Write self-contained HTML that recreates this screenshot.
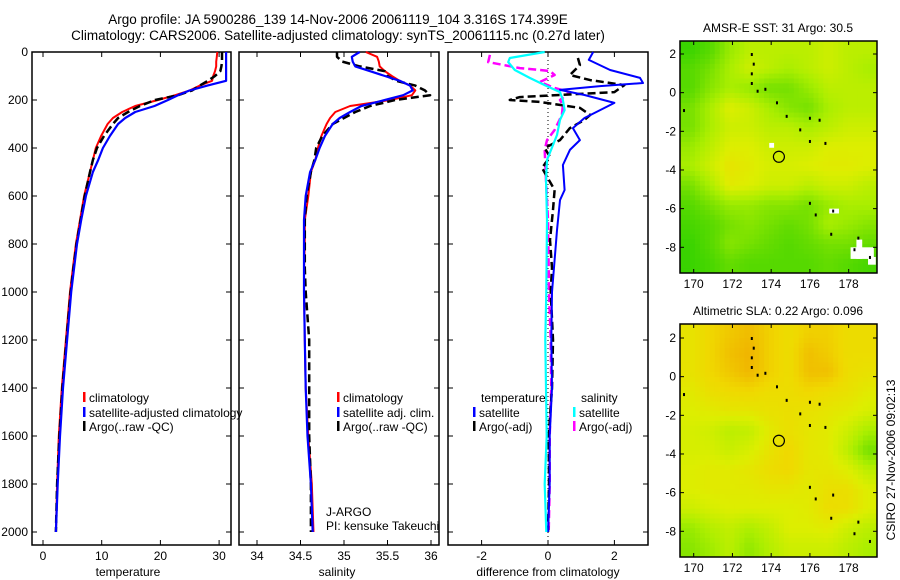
<!DOCTYPE html>
<html><head><meta charset="utf-8"><style>
body{margin:0;background:#fff;}
svg{display:block;font-family:"Liberation Sans",sans-serif;}
text{font-size:12px;fill:#000;}
</style></head><body>
<svg id="c" width="900" height="580" viewBox="0 0 900 580"></svg>
<script>
const depths=[0,20,40,60,80,100,120,140,160,180,200,225,250,275,300,350,400,450,500,600,700,800,900,1000,1200,1400,1600,1800,2000];
const tClim=[29.7,29.6,29.5,29.5,29.3,29.0,28.8,26.7,25.0,22.5,19.6,15.7,13.5,11.9,11.0,9.9,9.0,8.5,8.0,7.0,6.3,5.6,5.1,4.6,3.9,3.2,2.7,2.4,2.2];
const tSat=[31.2,31.2,31.2,31.2,31.2,31.2,31.2,28.0,25.0,23.0,21.3,19.0,15.7,14.0,12.8,11.4,10.2,9.4,8.5,7.3,6.5,5.8,5.3,4.8,4.1,3.4,2.9,2.5,2.2];
const tArgo=[30.5,30.5,30.5,30.4,30.2,29.3,28.1,26.7,25.4,23.0,19.1,16.5,14.5,12.8,11.9,10.4,9.2,8.5,8.0,7.1,6.4,5.7,5.2,4.7,4.0,3.3,2.8,2.4,2.2];
const sClim=[35.25,35.38,35.40,35.41,35.47,35.55,35.64,35.76,35.82,35.78,35.53,35.07,34.90,34.84,34.80,34.74,34.70,34.67,34.62,34.59,34.55,34.55,34.54,34.54,34.55,34.56,34.59,34.63,34.65];
const sSat=[35.18,35.09,35.10,35.13,35.30,35.47,35.64,35.76,35.79,35.68,35.47,35.20,35.07,34.95,34.87,34.78,34.72,34.67,34.61,34.56,34.54,34.54,34.54,34.54,34.55,34.56,34.58,34.62,34.64];
const sArgo=[34.92,34.92,34.98,35.18,35.47,35.50,35.60,35.82,35.93,35.99,35.59,35.30,35.13,35.00,34.87,34.75,34.68,34.66,34.62,34.57,34.55,34.55,34.55,34.56,34.60,34.60,34.60,34.62,34.62];
const dTSatDepth=[0,33,75,108,129,142,158,179,212,242,275,317,367,408,471,575,617,742,867,1000,1200,1400,1600,1800,2000];
const dTSat=[1.36,1.23,1.87,2.77,2.86,1.57,0.36,1.1,2.0,1.57,1.1,0.75,0.96,0.66,0.45,0.5,0.36,0.27,0.2,0.12,0.1,0.12,0.05,0.05,0.0];
const dTArgoDepth=[25,54,96,117,138,167,188,200,208,233,262,283,317,367,400,437,483,575,658,783,900,1000,1200,1400,1600,1800,2000];
const dTArgo=[0.9,0.96,0.66,1.27,2.3,2.0,-0.85,-1.15,-0.25,0.96,1.27,1.1,0.66,0.36,-0.1,0.06,-0.18,0.2,0.15,0.06,0.12,0.08,0.15,0.12,0.02,0.03,0.0];
const dSSatDepth=[0,25,42,75,108,138,167,200,242,283,346,450,533,700,1000,1200,1400,1600,1800,2000];
const dSSat=[-0.1,-1.15,-1.2,-1.0,-0.55,-0.1,0.36,0.45,0.5,0.36,0.27,-0.03,-0.06,-0.03,-0.05,-0.08,-0.06,-0.04,-0.1,-0.05];
const dSArgoDepth=[12,42,67,79,96,125,150,167,200,221,262,325,367,408,533,700,1000,1200,1400,1600,1800,2000];
const dSArgo=[-1.75,-1.8,-0.85,0.06,0.2,-0.24,0.2,0.66,0.36,0.45,0.42,0.2,-0.03,-0.1,-0.06,0.0,0.03,0.08,0.1,0.05,0.05,0.02];
const depthTicks=[0,200,400,600,800,1000,1200,1400,1600,1800,2000];
const tempTicks=[0,10,20,30];
const salTicks=[34,34.5,35,35.5,36];
const diffTicks=[-2,0,2];
const lonTicks=[170,172,174,176,178];
const latTicks=[2,0,-2,-4,-6,-8];
const sstGrid=[
[0.2,0.3,0.5,0.6,0.6,0.6,0.6,0.65,0.6,0.6],
[0.3,0.4,0.55,0.65,0.6,0.55,0.6,0.65,0.6,0.55],
[0.3,0.45,0.55,0.5,0.4,0.4,0.5,0.6,0.6,0.6],
[0.4,0.55,0.7,0.65,0.55,0.45,0.4,0.55,0.6,0.6],
[0.4,0.55,0.65,0.65,0.6,0.6,0.55,0.6,0.65,0.65],
[0.5,0.6,0.7,0.7,0.65,0.65,0.65,0.7,0.7,0.7],
[0.55,0.65,0.75,0.72,0.68,0.68,0.7,0.72,0.72,0.7],
[0.4,0.55,0.72,0.7,0.65,0.65,0.6,0.65,0.65,0.6],
[0.3,0.4,0.5,0.5,0.45,0.45,0.4,0.5,0.55,0.55],
[0.25,0.3,0.4,0.45,0.4,0.35,0.4,0.55,0.5,0.45],
[0.2,0.3,0.45,0.4,0.35,0.3,0.35,0.4,0.4,0.35],
[0.2,0.25,0.35,0.3,0.3,0.3,0.3,0.35,0.3,0.25]];
const slaGrid=[
[0.75,0.8,0.84,0.87,0.82,0.78,0.82,0.82,0.78,0.78],
[0.75,0.8,0.86,0.89,0.82,0.78,0.86,0.83,0.78,0.78],
[0.75,0.8,0.84,0.88,0.82,0.78,0.86,0.86,0.78,0.76],
[0.72,0.77,0.79,0.8,0.78,0.78,0.8,0.78,0.76,0.72],
[0.7,0.72,0.74,0.74,0.76,0.77,0.76,0.74,0.72,0.68],
[0.68,0.66,0.6,0.62,0.72,0.77,0.74,0.72,0.65,0.55],
[0.68,0.68,0.64,0.68,0.75,0.8,0.74,0.72,0.6,0.4],
[0.7,0.72,0.72,0.74,0.78,0.8,0.74,0.74,0.7,0.6],
[0.7,0.72,0.72,0.72,0.74,0.74,0.72,0.77,0.77,0.7],
[0.65,0.68,0.7,0.7,0.7,0.7,0.72,0.78,0.77,0.7],
[0.5,0.58,0.62,0.56,0.62,0.7,0.7,0.72,0.65,0.6],
[0.45,0.52,0.6,0.48,0.58,0.65,0.65,0.65,0.6,0.55]];
const islandLon=[173,173.1,173,173,173.7,173.3,174.3,174.8,176,176.5,175.5,176,176.8,176,176.3,177.2,177.1,178.5,178.3,179.1,169.5];
const islandLat=[2,1.5,1,0.5,0.2,0.1,-0.5,-1.2,-1.3,-1.4,-1.9,-2.5,-2.6,-5.7,-6.3,-6.1,-7.3,-7.5,-8.1,-8.5,-0.9];
const floatLon=174.399, floatLat=-3.316;

const svg=document.getElementById('c');
const NS='http://www.w3.org/2000/svg';
function el(tag,attrs,parent){const e=document.createElementNS(NS,tag);for(const k in attrs)e.setAttribute(k,attrs[k]);(parent||svg).appendChild(e);return e;}
function txt(x,y,s,anchor,parent){const t=el('text',{x:x,y:y,'text-anchor':anchor||'start'},parent);t.textContent=s;return t;}

const dTop=52,dScale=0.24;
const yD=d=>dTop+d*dScale;
const panels=[
 {name:'temperature',x0:32,x1:231,fx:v=>43+v*5.87,ticks:tempTicks,label:'temperature',lx:128},
 {name:'salinity',x0:239,x1:439,fx:v=>257+(v-34)*87,ticks:salTicks,label:'salinity',lx:337},
 {name:'difference',x0:448,x1:648,fx:v=>548+v*33.2,ticks:diffTicks,label:'difference from climatology',lx:548}
];
const pTop=52,pBot=545;
panels.forEach((p,i)=>{
 const g=el('g',{});
 
 
 const fr=el('rect',{x:p.x0,y:pTop,width:p.x1-p.x0,height:pBot-pTop,fill:'none',stroke:'#000','stroke-width':1.5},g);
 
 
 p.ticks.forEach(v=>{const x=p.fx(v);
  el('line',{x1:x,x2:x,y1:pBot,y2:pBot-5,stroke:'#000'},g);
  el('line',{x1:x,x2:x,y1:pTop,y2:pTop+5,stroke:'#000'},g);
  const t=txt(x,pBot+15,String(v),'middle',g);
  
  
 });
 depthTicks.forEach(d=>{const y=yD(d);
  el('line',{x1:p.x0,x2:p.x0+5,y1:y,y2:y,stroke:'#000'},g);
  el('line',{x1:p.x1,x2:p.x1-5,y1:y,y2:y,stroke:'#000'},g);
  if(i===0){const t=txt(28,y+4,String(d),'end',g);
   
   }
 });
 const xl=txt(p.lx,pBot+31,p.label,'middle',g);
 
 
});

function series(p,ds,vals,color,w,dash,name){
 const pts=ds.map((d,k)=>p.fx(vals[k]).toFixed(1)+','+yD(d).toFixed(1)).join(' ');
 const l=el('polyline',{points:pts,fill:'none',stroke:color,'stroke-width':w,'stroke-dasharray':dash||'none','stroke-linejoin':'round'});
 
 
}
const zl=el('line',{x1:548,x2:548,y1:pTop,y2:pBot,stroke:'#000','stroke-dasharray':'1,3'});



series(panels[0],depths,tClim,'#f00',2,null,'temperature-climatology-line');
series(panels[0],depths,tArgo,'#000',2.5,'8,4','temperature-argo-line');
series(panels[0],depths,tSat,'#00f',2.2,null,'temperature-satellite-line');
series(panels[1],depths,sClim,'#f00',2,null,'salinity-climatology-line');
series(panels[1],depths,sArgo,'#000',2.5,'8,4','salinity-argo-line');
series(panels[1],depths,sSat,'#00f',2.2,null,'salinity-satellite-line');
series(panels[2],dSArgoDepth,dSArgo,'#f0f',2.5,'8,4','diff-salinity-argo-line');
series(panels[2],dTArgoDepth,dTArgo,'#000',2.5,'8,4','diff-temperature-argo-line');
series(panels[2],dTSatDepth,dTSat,'#00f',2,null,'diff-temperature-satellite-line');
series(panels[2],dSSatDepth,dSSat,'#0ff',2.2,null,'diff-salinity-satellite-line');

function legend(x,y,color,label,name){
 const g=el('g',{});
 
 
 el('rect',{x:x,y:y-10,width:2.5,height:10,fill:color},g);
 txt(x+6,y,label,'start',g);
}
legend(83,402,'#f00','climatology','legend-climatology');
legend(83,417,'#00f','satellite-adjusted climatology','legend-satellite-adjusted');
legend(83,431,'#000','Argo(..raw -QC)','legend-argo');
legend(337,402,'#f00','climatology','legend-sal-climatology');
legend(337,417,'#00f','satellite adj. clim.','legend-sal-satellite');
legend(337,431,'#000','Argo(..raw -QC)','legend-sal-argo');
let t=txt(481,402,'temperature');
t=txt(581,402,'salinity');
legend(473,417,'#00f','satellite','legend-temp-satellite');
legend(473,431,'#000','Argo(-adj)','legend-temp-argo');
legend(573,417,'#0ff','satellite','legend-sal-satellite-diff');
legend(573,431,'#f0f','Argo(-adj)','legend-sal-argo-diff');
t=txt(326,516,'J-ARGO');
t=txt(326,530,'PI: kensuke Takeuchi');
const tt=el('text',{x:338,y:24,'text-anchor':'middle'});tt.textContent='Argo profile: JA 5900286_139 14-Nov-2006 20061119_104 3.316S 174.399E';
tt.style.fontSize='13.5px';
const t2=el('text',{x:338,y:40,'text-anchor':'middle'});t2.textContent='Climatology: CARS2006. Satellite-adjusted climatology: synTS_20061115.nc (0.27d later)';
t2.style.fontSize='13.5px';

const stops=[[0,[0,200,0]],[0.35,[100,220,0]],[0.55,[170,238,0]],[0.7,[221,238,0]],[0.8,[240,216,0]],[0.9,[240,176,0]],[1,[255,136,0]]];
function cmap(v){for(let i=1;i<stops.length;i++){if(v<=stops[i][0]){const a=stops[i-1],b=stops[i],f=(v-a[0])/(b[0]-a[0]);return 'rgb('+a[1].map((c,k)=>Math.round(c+(b[1][k]-c)*f)).join(',')+')';}}return 'rgb(255,136,0)';}
function sample(grid,r,c){
 const R=grid.length,C=grid[0].length;
 r=Math.max(0,Math.min(R-1,r));c=Math.max(0,Math.min(C-1,c));
 const r0=Math.floor(r),c0=Math.floor(c),r1=Math.min(R-1,r0+1),c1=Math.min(C-1,c0+1),fr=r-r0,fc=c-c0;
 return grid[r0][c0]*(1-fr)*(1-fc)+grid[r0][c1]*(1-fr)*fc+grid[r1][c0]*fr*(1-fc)+grid[r1][c1]*fr*fc;
}
function drawMap(top,bot,lat2y,grid,title,name,whites){
 const x0=680,x1=877;
 const fx=lon=>693.7+(lon-170)*19.37;
 const fy=lat=>lat2y+(2-lat)*19.33;
 const g=el('g',{});
 
 
 const cp=el('clipPath',{id:name+'-clip'},g);el('rect',{x:x0,y:top,width:x1-x0,height:bot-top},cp);
 const cg=el('g',{'clip-path':'url(#'+name+'-clip)'},g);
 const rows=grid.length,cols=grid[0].length,sub=4;
 const latTop=2.75,lonLeft=169.3,dLat=12.1/rows,dLon=10.2/cols;
 for(let r=0;r<rows*sub;r++)for(let c=0;c<cols*sub;c++){
  const v=sample(grid,(r+0.5)/sub-0.5,(c+0.5)/sub-0.5);
  const lat=latTop-r*dLat/sub,lon=lonLeft+c*dLon/sub;
  const cell=el('rect',{x:fx(lon),y:fy(lat),width:19.37*dLon/sub+0.5,height:19.33*dLat/sub+0.5,fill:cmap(v)},cg);
  
  
 }
 (whites||[]).forEach(w=>{el('rect',{x:fx(w[0]),y:fy(w[1]),width:w[2]*19.37,height:w[3]*19.33,fill:'#fff'},cg);});
 islandLon.forEach((lon,k)=>{const m=el('rect',{x:fx(lon)-1,y:fy(islandLat[k])-1,width:2,height:3,fill:'#000'},cg);
  });
 const fl=el('circle',{cx:fx(floatLon),cy:fy(floatLat),r:5.5,fill:'none',stroke:'#000','stroke-width':1.2},g);
 
 el('rect',{x:x0,y:top,width:x1-x0,height:bot-top,fill:'none',stroke:'#000','stroke-width':1.5},g);
 lonTicks.forEach(lon=>{const x=fx(lon);
  el('line',{x1:x,x2:x,y1:bot,y2:bot-4,stroke:'#000'},g);el('line',{x1:x,x2:x,y1:top,y2:top+4,stroke:'#000'},g);
  const l=txt(x,bot+15,String(lon),'middle',g);});
 latTicks.forEach(lat=>{const y=fy(lat);
  el('line',{x1:x0,x2:x0+4,y1:y,y2:y,stroke:'#000'},g);el('line',{x1:x1,x2:x1-4,y1:y,y2:y,stroke:'#000'},g);
  const l=txt(676,y+4,String(lat),'end',g);});
 const ti=txt(778,top-9,title,'middle',g);
}
drawMap(41,273,54,sstGrid,'AMSR-E SST: 31  Argo: 30.5','sst-map',[[177,-6.0,0.5,0.25],[178.4,-7.6,0.3,1.0],[178.1,-8.0,1.2,0.6],[179,-8.5,0.4,0.4],[173.9,-2.6,0.25,0.25]]);
drawMap(324,557,338,slaGrid,'Altimetric SLA: 0.22  Argo: 0.096','sla-map');
const cs=el('text',{x:0,y:0,'text-anchor':'middle',transform:'translate(895,460) rotate(-90)'});
cs.textContent='CSIRO 27-Nov-2006 09:02:13';

</script>
</body></html>
